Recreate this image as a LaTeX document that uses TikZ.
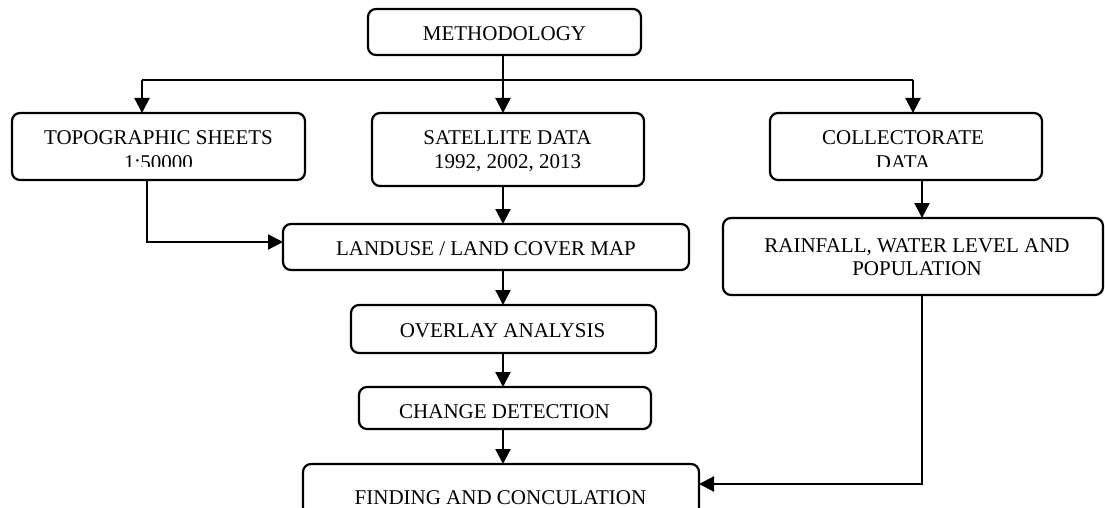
\documentclass[tikz,border=0pt]{standalone}
\usepackage{fontspec}
\setmainfont{Liberation Serif}
\usetikzlibrary{arrows.meta}
\tikzset{
  boxnode/.style={draw=black, line width=2.2pt, rounded corners=8pt, inner sep=0pt, outer sep=0pt},
  lbl/.style={anchor=base, inner sep=0pt, outer sep=0pt, font=\fontsize{21}{23}\selectfont},
  conn/.style={line width=2.2pt, draw=black},
  arr/.style={conn, -{Triangle[length=15pt,width=15pt]}}
}
\begin{document}
\begin{tikzpicture}[x=1pt,y=-1pt]
\useasboundingbox (0,0) rectangle (1105,508);
\clip (0,0) rectangle (1105,508);
% boxes
\node[boxnode, minimum width=273pt, minimum height=46pt] (meth) at (504.5,32) {};
\node[boxnode, minimum width=293pt, minimum height=67pt] (topo) at (158.5,146.5) {};
\node[boxnode, minimum width=272pt, minimum height=73pt] (sat) at (508,149.5) {};
\node[boxnode, minimum width=272pt, minimum height=67pt] (coll) at (906,146.5) {};
\node[boxnode, minimum width=406pt, minimum height=46pt] (land) at (486,247) {};
\node[boxnode, minimum width=380pt, minimum height=77pt] (rain) at (913,256.5) {};
\node[boxnode, minimum width=305pt, minimum height=48pt] (over) at (503.5,329) {};
\node[boxnode, minimum width=292pt, minimum height=42pt] (chg) at (505,408) {};
\node[boxnode, minimum width=396pt, minimum height=60pt] (find) at (501,494) {};
% labels
\node[lbl] (methT) at (504.5,41) {METHODOLOGY};
\node[lbl] (topoT) at (158.5,145) {TOPOGRAPHIC SHEETS};
\begin{scope}
\clip (0,0) rectangle (1105,166);
\node[lbl] (topoT2) at (158.5,169) {1:50000};
\node[lbl] (collT2) at (903,169) {DATA};
\end{scope}
\node[lbl] (satT) at (507.5,145) {SATELLITE DATA};
\node[lbl] (satT2) at (507.5,168) {1992, 2002, 2013};
\node[lbl] (collT) at (903,145) {COLLECTORATE};
\node[lbl] (landT) at (486,255) {LANDUSE / LAND COVER MAP};
\node[lbl] (rainT) at (917,252) {RAINFALL, WATER LEVEL AND};
\node[lbl] (rainT2) at (917,275) {POPULATION};
\node[lbl] (overT) at (502.5,337) {OVERLAY ANALYSIS};
\node[lbl] (chgT) at (504.5,418) {CHANGE DETECTION};
\node[lbl] (findT) at (500.5,504) {FINDING AND CONCULATION};
% connectors
\coordinate (hl) at (142,80);
\coordinate (hr) at (913,80);
\coordinate (cx) at (503,0);
\coordinate (tx) at (147,0);
\coordinate (ty) at (0,242);
\coordinate (rx) at (922,0);
\coordinate (fy) at (0,484);
\draw[conn] (hl) -- (hr);
\draw[arr] (hl) -- (hl |- topo.north);
\draw[arr] (hr) -- (hr |- coll.north);
\draw[arr] (meth.south -| cx) -- (sat.north -| cx);
\draw[arr] (sat.south -| cx) -- (land.north -| cx);
\draw[arr] (land.south -| cx) -- (over.north -| cx);
\draw[arr] (over.south -| cx) -- (chg.north -| cx);
\draw[arr] (chg.south -| cx) -- (find.north -| cx);
\draw[arr] (topo.south -| tx) |- (land.west |- ty);
\draw[arr] (coll.south -| rx) -- (rain.north -| rx);
\draw[arr] (rain.south -| rx) |- (find.east |- fy);
\end{tikzpicture}
\end{document}
